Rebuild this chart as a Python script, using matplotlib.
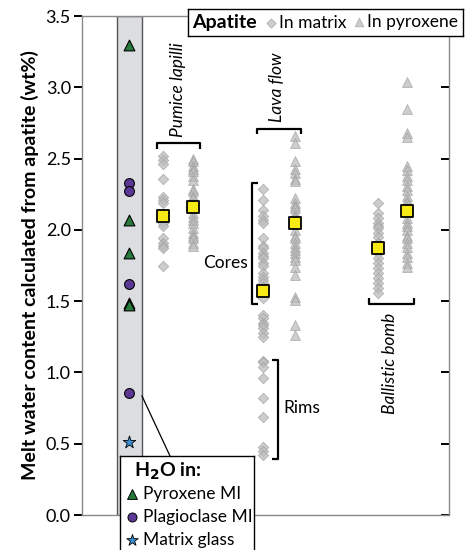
import numpy as np
import matplotlib
matplotlib.use('Agg')
import matplotlib.pyplot as plt
from matplotlib.lines import Line2D
from matplotlib.patches import Rectangle

plt.rcParams['font.family'] = ['Lato', 'DejaVu Sans']

# melt inclusion / glass values (band on the left)
pyx_mi = [3.30, 2.07, 1.84, 1.49, 1.47]
plag_mi = [2.33, 2.27, 1.62, 0.855]
matrix_glass = [0.51]

# apatite derived water contents
pumice_matrix = [2.52, 2.49, 2.46, 2.36, 2.23, 2.21, 2.19, 2.05, 2.03, 1.94, 1.91, 1.89, 1.87, 1.75]
pumice_pyx = [2.50, 2.48, 2.45, 2.43, 2.41, 2.38, 2.35, 2.29, 2.27, 2.24, 2.22, 2.19, 2.12, 2.09,
              2.07, 2.05, 2.01, 1.98, 1.96, 1.94, 1.91, 1.89]
lava_matrix_cores = [2.29, 2.21, 2.14, 2.10, 2.07, 2.05, 1.94, 1.89, 1.87, 1.84, 1.82, 1.80, 1.77,
                     1.75, 1.70, 1.67, 1.65, 1.63, 1.60, 1.58, 1.52]
lava_matrix_low = [1.40, 1.38, 1.35, 1.33, 1.31, 1.28, 1.25]
lava_matrix_rims = [1.08, 1.07, 1.04, 0.96, 0.82, 0.69, 0.48, 0.45, 0.42]
lava_pyx = [2.66, 2.61, 2.48, 2.43, 2.40, 2.36, 2.34, 2.22, 2.19, 2.17, 2.15, 2.12, 2.10, 2.08,
            2.00, 1.96, 1.94, 1.91, 1.88, 1.86, 1.84, 1.81, 1.79, 1.74, 1.68, 1.53, 1.51, 1.33, 1.26]
bomb_matrix = [2.19, 2.12, 2.08, 2.05, 2.03, 2.01, 1.98, 1.95, 1.91, 1.84, 1.80, 1.77, 1.73, 1.70,
               1.66, 1.63, 1.59, 1.56]
bomb_pyx = [3.04, 2.85, 2.68, 2.65, 2.45, 2.42, 2.38, 2.35, 2.31, 2.28, 2.24, 2.21, 2.19, 2.16,
            2.08, 2.05, 2.03, 2.00, 1.96, 1.94, 1.91, 1.88, 1.84, 1.81, 1.77, 1.74]

# averages (yellow squares)
mean_vals = [2.10, 2.16, 1.57, 2.05, 1.87, 2.13]

x_band = 1.28
x_pos = [2.21, 3.02, 4.93, 5.80, 8.07, 8.86]

fig = plt.figure(figsize=(4.76, 5.5), dpi=100)
ax = fig.add_axes([82/476, 35/550, 367/476, 499/550])
ax.set_xlim(0, 10)
ax.set_ylim(0, 3.5)

# grey band holding the melt inclusion data
ax.add_patch(Rectangle((0.95, 0), 0.68, 3.5, facecolor='#dcdde0', edgecolor='#555555', lw=1, zorder=1))

green = '#267a3c'
purple = '#5b3895'
blue = '#3b8fd4'
ax.scatter([x_band]*len(pyx_mi), pyx_mi, marker='^', s=60, c=green, edgecolors='k', lw=0.8, zorder=5)
ax.scatter([x_band]*len(plag_mi), plag_mi, marker='o', s=50, c=purple, edgecolors='k', lw=0.8, zorder=5)
ax.scatter([x_band]*len(matrix_glass), matrix_glass, marker='*', s=90, c=blue, edgecolors='k', lw=0.6, zorder=5)

gray_kw = dict(c='#bdbdbd', edgecolors='#9e9e9e', lw=0.6, alpha=0.75, zorder=3)
ax.scatter([x_pos[0]]*len(pumice_matrix), pumice_matrix, marker='D', s=28, **gray_kw)
ax.scatter([x_pos[1]]*len(pumice_pyx), pumice_pyx, marker='^', s=50, **gray_kw)
lava_m = lava_matrix_cores + lava_matrix_low + lava_matrix_rims
ax.scatter([x_pos[2]]*len(lava_m), lava_m, marker='D', s=28, **gray_kw)
ax.scatter([x_pos[3]]*len(lava_pyx), lava_pyx, marker='^', s=50, **gray_kw)
ax.scatter([x_pos[4]]*len(bomb_matrix), bomb_matrix, marker='D', s=28, **gray_kw)
ax.scatter([x_pos[5]]*len(bomb_pyx), bomb_pyx, marker='^', s=50, **gray_kw)

ax.scatter(x_pos, mean_vals, marker='s', s=85, c='#f7ea16', edgecolors='k', lw=1.3, zorder=6)

# brackets
bk = dict(color='k', lw=1.6, solid_capstyle='butt', zorder=4)
ax.plot([2.04, 2.04, 3.22, 3.22], [2.57, 2.61, 2.61, 2.57], **bk)
ax.plot([4.77, 4.77, 5.97, 5.97], [2.67, 2.71, 2.71, 2.67], **bk)
ax.plot([4.80, 4.63, 4.63, 4.80], [2.33, 2.33, 1.48, 1.48], **bk)
ax.plot([5.18, 5.34, 5.34, 5.18], [1.09, 1.09, 0.39, 0.39], **bk)
ax.plot([7.82, 7.82, 9.05, 9.05], [1.52, 1.48, 1.48, 1.52], **bk)

ax.text(2.62, 2.65, 'Pumice lapilli', rotation=90, style='italic', fontsize=12.5, ha='center', va='bottom')
ax.text(5.31, 2.76, 'Lava flow', rotation=90, style='italic', fontsize=12.5, ha='center', va='bottom')
ax.text(8.39, 1.42, 'Ballistic bomb', rotation=90, style='italic', fontsize=12.5, ha='center', va='top')
ax.text(4.52, 1.77, 'Cores', fontsize=12.5, ha='right', va='center')
ax.text(5.48, 0.75, 'Rims', fontsize=12.5, ha='left', va='center')

# axes styling
ax.set_yticks(np.arange(0, 3.51, 0.5))
ax.set_yticklabels(['%.1f' % v for v in np.arange(0, 3.51, 0.5)], fontsize=13)
ax.tick_params(axis='y', direction='out', length=6, width=1.4, pad=2, right=True)
ax.tick_params(axis='x', bottom=False, labelbottom=False)
for s in ax.spines.values():
    s.set_color('#8a8a8a')
    s.set_linewidth(1)
ax.set_ylabel('Melt water content calculated from apatite (wt%)', fontsize=14, fontweight='bold', labelpad=5)
# right ticks point inward
for t in ax.yaxis.get_major_ticks():
    t.tick2line.set_marker(matplotlib.lines.TICKLEFT)

# leader line from band to lower legend
fig.add_artist(Line2D([142/476, 170/476], [1 - 396/550, 1 - 456/550], color='k', lw=0.9))

# top legend
lg = fig.add_axes([188/476, 1 - 36/550, 275/476, 27/550])
lg.set_xlim(0, 275)
lg.set_ylim(0, 27)
lg.set_xticks([])
lg.set_yticks([])
for s in lg.spines.values():
    s.set_color('k')
    s.set_linewidth(1)
lg.text(4, 13.5, 'Apatite', fontsize=14, fontweight='bold', va='center')
lg.scatter([83], [13.5], marker='D', s=22, **gray_kw)
lg.text(91, 13.5, 'In matrix', fontsize=12.5, va='center')
lg.scatter([171], [14], marker='^', s=38, **gray_kw)
lg.text(179, 13.5, 'In pyroxene', fontsize=12.5, va='center')

# bottom legend
lb = fig.add_axes([120/476, -2/550, 134/476, 96/550])
lb.set_xlim(0, 134)
lb.set_ylim(96, 0)
lb.set_xticks([])
lb.set_yticks([])
for s in lb.spines.values():
    s.set_color('k')
    s.set_linewidth(1)
lb.text(14, 15, r'H$_\mathbf{2}$O in:', fontsize=14, fontweight='bold', va='center')
lb.scatter([12], [38], marker='^', s=50, c=green, edgecolors='k', lw=0.7)
lb.text(23, 38, 'Pyroxene MI', fontsize=12.5, va='center')
lb.scatter([12], [61], marker='o', s=42, c=purple, edgecolors='k', lw=0.7)
lb.text(23, 61, 'Plagioclase MI', fontsize=12.5, va='center')
lb.scatter([12], [84], marker='*', s=75, c=blue, edgecolors='k', lw=0.6)
lb.text(23, 84, 'Matrix glass', fontsize=12.5, va='center')

fig.savefig('out.png', dpi=100)
